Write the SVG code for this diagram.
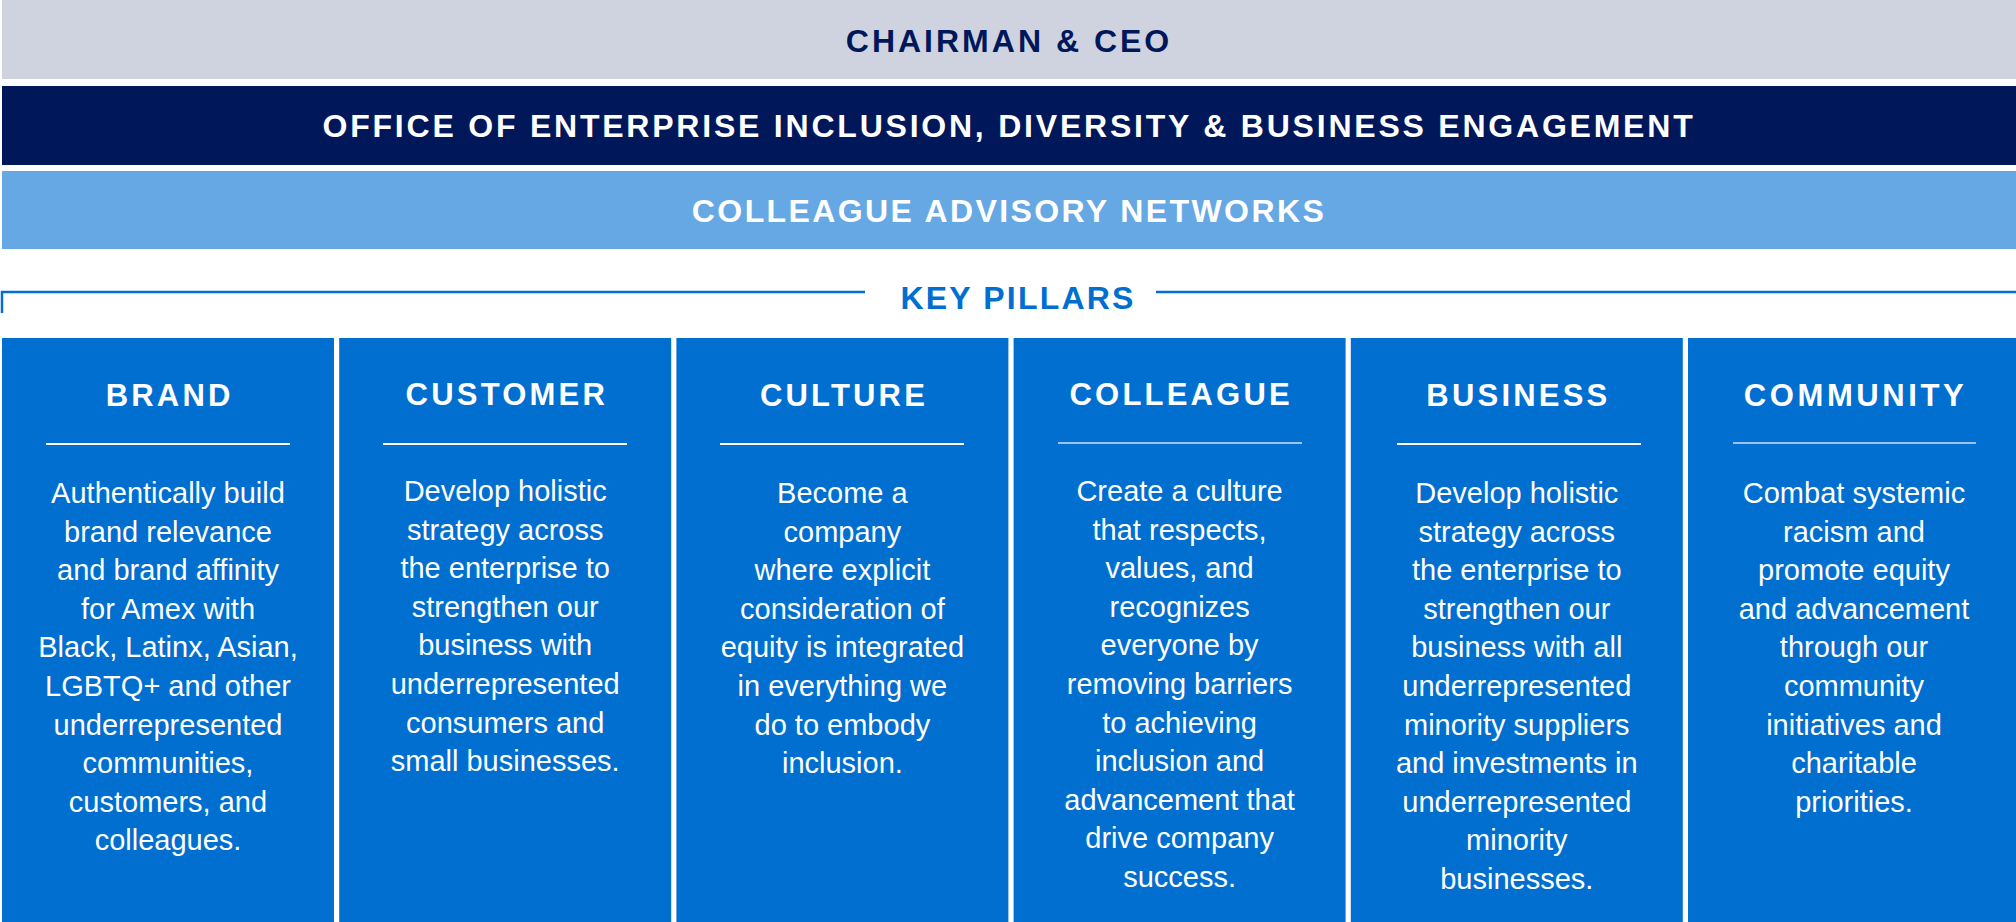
<svg xmlns="http://www.w3.org/2000/svg" width="2016" height="922" viewBox="0 0 2016 922">
<style>
.bar-t{font-family:"Liberation Sans",Arial,sans-serif;font-weight:bold;font-size:32px;letter-spacing:3px;text-anchor:middle}
.col{fill:#006fcf}
.title{font-family:"Liberation Sans",Arial,sans-serif;font-weight:bold;font-size:31px;letter-spacing:3.2px;fill:#ffffff;text-anchor:middle}
.body{font-family:"Liberation Sans",Arial,sans-serif;font-size:29px;fill:#ffffff;text-anchor:middle}
.sep{stroke:#ffffff;stroke-width:2}
.sep2{stroke:#9cc3ee;stroke-width:2}
</style>
<rect width="2016" height="922" fill="#ffffff"/>
<g id="chairman">
<rect x="2" y="0" width="2014" height="79" fill="#cfd3e0"/>
<text class="bar-t" x="1009" y="52" fill="#00175a">CHAIRMAN &amp; CEO</text>
</g>
<g id="office">
<rect x="2" y="86" width="2014" height="79" fill="#00175a"/>
<text class="bar-t" x="1009" y="137" fill="#ffffff" style="letter-spacing:2.78px">OFFICE OF ENTERPRISE INCLUSION, DIVERSITY &amp; BUSINESS ENGAGEMENT</text>
</g>
<g id="networks">
<rect x="2" y="171" width="2014" height="78" fill="#66a8e3"/>
<text class="bar-t" x="1009" y="222" fill="#ffffff" style="letter-spacing:2.4px">COLLEAGUE ADVISORY NETWORKS</text>
</g>
<g id="connectors">
<path d="M2,313 V292 H865" fill="none" stroke="#006fcf" stroke-width="2.5"/>
<path d="M1156,292 H2016" fill="none" stroke="#006fcf" stroke-width="2.5"/>
</g>
<g id="key-pillars">
<text class="bar-t" x="1018" y="309" fill="#006fcf" style="letter-spacing:2.2px">KEY PILLARS</text>
</g>
<g id="brand">
<rect class="col" x="2" y="338" width="332" height="584"/>
<text class="title" x="169.6" y="406">BRAND</text>
<line class="sep" x1="46" y1="444" x2="290" y2="444"/>
<text class="body" x="168" y="503"><tspan x="168">Authentically build</tspan><tspan x="168" dy="38.6">brand relevance</tspan><tspan x="168" dy="38.6">and brand affinity</tspan><tspan x="168" dy="38.6">for Amex with</tspan><tspan x="168" dy="38.6">Black, Latinx, Asian,</tspan><tspan x="168" dy="38.6">LGBTQ+ and other</tspan><tspan x="168" dy="38.6">underrepresented</tspan><tspan x="168" dy="38.6">communities,</tspan><tspan x="168" dy="38.6">customers, and</tspan><tspan x="168" dy="38.6">colleagues.</tspan></text>
</g>
<g id="customer">
<rect class="col" x="339.2" y="338" width="332" height="584"/>
<text class="title" x="506.8" y="405">CUSTOMER</text>
<line class="sep" x1="383" y1="444" x2="627" y2="444"/>
<text class="body" x="505.2" y="501"><tspan x="505.2">Develop holistic</tspan><tspan x="505.2" dy="38.6">strategy across</tspan><tspan x="505.2" dy="38.6">the enterprise to</tspan><tspan x="505.2" dy="38.6">strengthen our</tspan><tspan x="505.2" dy="38.6">business with</tspan><tspan x="505.2" dy="38.6">underrepresented</tspan><tspan x="505.2" dy="38.6">consumers and</tspan><tspan x="505.2" dy="38.6">small businesses.</tspan></text>
</g>
<g id="culture">
<rect class="col" x="676.4" y="338" width="332" height="584"/>
<text class="title" x="844" y="406">CULTURE</text>
<line class="sep" x1="720" y1="444" x2="964" y2="444"/>
<text class="body" x="842.4" y="503"><tspan x="842.4">Become a</tspan><tspan x="842.4" dy="38.6">company</tspan><tspan x="842.4" dy="38.6">where explicit</tspan><tspan x="842.4" dy="38.6">consideration of</tspan><tspan x="842.4" dy="38.6">equity is integrated</tspan><tspan x="842.4" dy="38.6">in everything we</tspan><tspan x="842.4" dy="38.6">do to embody</tspan><tspan x="842.4" dy="38.6">inclusion.</tspan></text>
</g>
<g id="colleague">
<rect class="col" x="1013.6" y="338" width="332" height="584"/>
<text class="title" x="1181.2" y="405">COLLEAGUE</text>
<line class="sep2" x1="1058" y1="443" x2="1302" y2="443"/>
<text class="body" x="1179.6" y="501"><tspan x="1179.6">Create a culture</tspan><tspan x="1179.6" dy="38.6">that respects,</tspan><tspan x="1179.6" dy="38.6">values, and</tspan><tspan x="1179.6" dy="38.6">recognizes</tspan><tspan x="1179.6" dy="38.6">everyone by</tspan><tspan x="1179.6" dy="38.6">removing barriers</tspan><tspan x="1179.6" dy="38.6">to achieving</tspan><tspan x="1179.6" dy="38.6">inclusion and</tspan><tspan x="1179.6" dy="38.6">advancement that</tspan><tspan x="1179.6" dy="38.6">drive company</tspan><tspan x="1179.6" dy="38.6">success.</tspan></text>
</g>
<g id="business">
<rect class="col" x="1350.8" y="338" width="332" height="584"/>
<text class="title" x="1518.4" y="406">BUSINESS</text>
<line class="sep" x1="1397" y1="444" x2="1641" y2="444"/>
<text class="body" x="1516.8" y="503"><tspan x="1516.8">Develop holistic</tspan><tspan x="1516.8" dy="38.6">strategy across</tspan><tspan x="1516.8" dy="38.6">the enterprise to</tspan><tspan x="1516.8" dy="38.6">strengthen our</tspan><tspan x="1516.8" dy="38.6">business with all</tspan><tspan x="1516.8" dy="38.6">underrepresented</tspan><tspan x="1516.8" dy="38.6">minority suppliers</tspan><tspan x="1516.8" dy="38.6">and investments in</tspan><tspan x="1516.8" dy="38.6">underrepresented</tspan><tspan x="1516.8" dy="38.6">minority</tspan><tspan x="1516.8" dy="38.6">businesses.</tspan></text>
</g>
<g id="community">
<rect class="col" x="1688" y="338" width="332" height="584"/>
<text class="title" x="1855.6" y="406" style="letter-spacing:3.6px">COMMUNITY</text>
<line class="sep2" x1="1733" y1="443" x2="1976" y2="443"/>
<text class="body" x="1854" y="503"><tspan x="1854">Combat systemic</tspan><tspan x="1854" dy="38.6">racism and</tspan><tspan x="1854" dy="38.6">promote equity</tspan><tspan x="1854" dy="38.6">and advancement</tspan><tspan x="1854" dy="38.6">through our</tspan><tspan x="1854" dy="38.6">community</tspan><tspan x="1854" dy="38.6">initiatives and</tspan><tspan x="1854" dy="38.6">charitable</tspan><tspan x="1854" dy="38.6">priorities.</tspan></text>
</g>
</svg>
